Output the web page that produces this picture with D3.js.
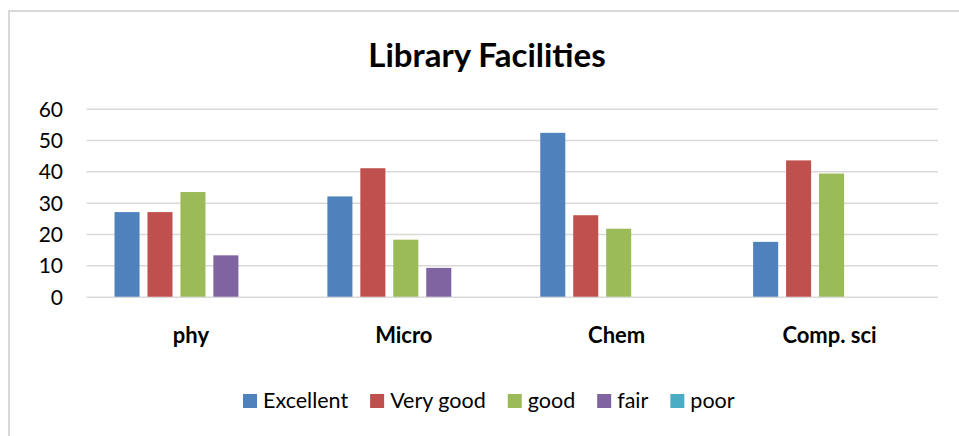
<!DOCTYPE html>
<html>
<head>
<meta charset="utf-8">
<title>Library Facilities</title>
<style type="text/css">
* { margin: 0; padding: 0; }
body { background: #fff; font-family: Lato, "Open Sans", sans-serif; }
.grid line { stroke: #d9d9d9; stroke-width: 1.5; }
.grid path { display: none; }
.yaxis path, .yaxis line { display: none; }
.yaxis text { font-size: 21px; fill: #000; font-family: Lato, sans-serif; }
.xlabel { font-size: 22px; font-weight: bold; fill: #000; }
.legend text { font-size: 21.5px; fill: #000; }
</style>
<script src="https://cdn.jsdelivr.net/npm/d3@7"></script>
</head>
<body>
<div id="chart"></div>
<script type="text/javascript">
// values
var categories = ["phy", "Micro", "Chem", "Comp. sci"];
var seriesNames = ["Excellent", "Very good", "good", "fair", "poor"];
var seriesColors = ["#4f81bd", "#c0504d", "#9bbb59", "#8064a2", "#4bacc6"];
var excellent = [27, 32, 52.3, 17.5];
var veryGood = [27, 41, 26, 43.5];
var good = [33.4, 18.2, 21.7, 39.3];
var fair = [13.2, 9.2, 0, 0];
var poor = [0, 0, 0, 0];
var yTicks = [0, 10, 20, 30, 40, 50, 60];

var seriesValues = [excellent, veryGood, good, fair, poor];

var W = 959, H = 436;
var plotLeft = 86.5, plotRight = 938, plotTop = 108.7, plotBottom = 296.7;

var svg = d3.select("#chart").append("svg")
  .attr("width", W)
  .attr("height", H);

// outer chart border (runs off the right and bottom edge)
svg.append("rect")
  .attr("x", 9)
  .attr("y", 11)
  .attr("width", 980)
  .attr("height", 460)
  .attr("fill", "#fff")
  .attr("stroke", "#d9d9d9")
  .attr("stroke-width", 2);

svg.append("text")
  .attr("x", 487)
  .attr("y", 67)
  .attr("text-anchor", "middle")
  .style("font-size", "33px")
  .style("font-weight", "bold")
  .text("Library Facilities");

var y = d3.scaleLinear().domain([0, 60]).range([plotBottom, plotTop]);

var x0 = d3.scaleBand().domain(categories).range([plotLeft, plotRight]);
var x1 = d3.scaleBand().domain(seriesNames).range([0, x0.bandwidth()])
  .paddingInner(0.24).paddingOuter(0.85);

svg.append("g")
  .attr("class", "grid")
  .attr("transform", "translate(" + plotLeft + ",0)")
  .call(d3.axisLeft(y).tickValues(yTicks).tickSize(-(plotRight - plotLeft)).tickFormat(""));

svg.append("g")
  .attr("class", "yaxis")
  .attr("transform", "translate(63,0)")
  .call(d3.axisLeft(y).tickValues(yTicks).tickSize(0).tickPadding(0))
  .selectAll("text").attr("dy", "0.36em");

var groups = svg.selectAll("g.cat")
  .data(categories)
  .enter().append("g")
  .attr("class", "cat")
  .attr("transform", function(d) { return "translate(" + x0(d) + ",0)"; });

groups.selectAll("rect")
  .data(function(d, i) {
    return seriesNames.map(function(s, j) { return { series: s, color: seriesColors[j], value: seriesValues[j][i] }; });
  })
  .enter().append("rect")
  .attr("x", function(d) { return x1(d.series); })
  .attr("y", function(d) { return y(d.value); })
  .attr("width", x1.bandwidth())
  .attr("height", function(d) { return plotBottom - y(d.value); })
  .attr("fill", function(d) { return d.color; });

svg.selectAll("text.xlabel")
  .data(categories)
  .enter().append("text")
  .attr("class", "xlabel")
  .attr("x", function(d) { return x0(d) + x0.bandwidth() / 2 - 2; })
  .attr("y", 343)
  .attr("text-anchor", "middle")
  .text(function(d) { return d; });

// legend, laid out by measured text width
var legend = svg.append("g").attr("class", "legend");
var lx = 243;
seriesNames.forEach(function(name, i) {
  legend.append("rect")
    .attr("x", lx)
    .attr("y", 394)
    .attr("width", 14)
    .attr("height", 14)
    .attr("fill", seriesColors[i]);
  var t = legend.append("text")
    .attr("x", lx + 20)
    .attr("y", 408)
    .text(name);
  lx += 20 + t.node().getComputedTextLength() + 22;
});
</script>
</body>
</html>
